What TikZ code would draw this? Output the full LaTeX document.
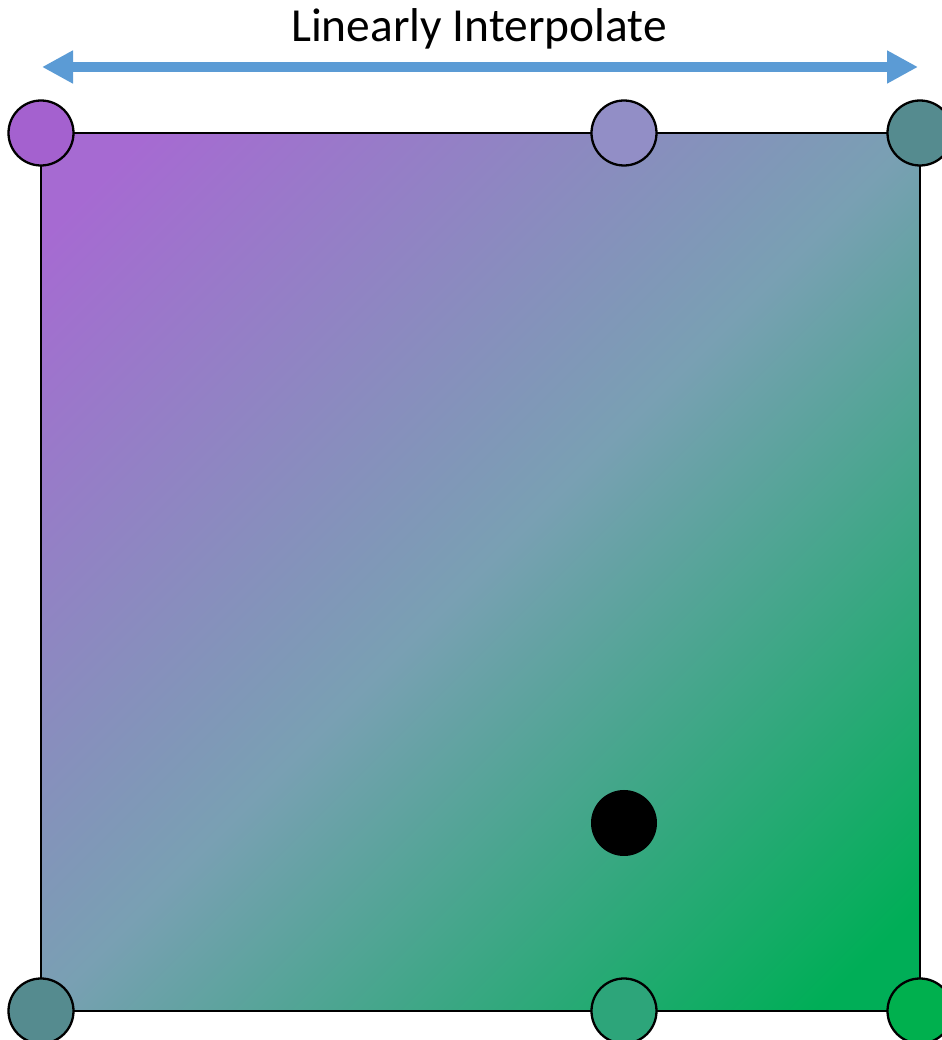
\documentclass[tikz,border=0pt]{standalone}
\usepackage{fontspec}
\setmainfont{Carlito}
\usetikzlibrary{arrows.meta}
\definecolor{gradA}{HTML}{A66AD2}
\definecolor{gradM}{HTML}{79A0B3}
\definecolor{gradB}{HTML}{00AE57}
\definecolor{knotA}{HTML}{A461CF}
\definecolor{knotB}{HTML}{928EC6}
\definecolor{knotC}{HTML}{558B8F}
\definecolor{knotD}{HTML}{2DA57A}
\definecolor{knotE}{HTML}{00B04E}
\definecolor{arrowblue}{HTML}{5B9BD5}
\pgfdeclarehorizontalshading{lerpfill}{100bp}{color(0bp)=(gradA); color(28bp)=(gradA); color(50bp)=(gradM); color(72bp)=(gradB); color(100bp)=(gradB)}
\begin{document}
\begin{tikzpicture}[x=1cm,y=1cm,line width=1.3pt,
  knot/.style={circle,draw=black,minimum size=1.3cm,inner sep=0pt},
  sample/.style={circle,fill=black,minimum size=1.32cm,inner sep=0pt},
  lerp/.style={arrowblue,line width=.2cm,{Triangle[length=.62cm,width=.62cm]}-{Triangle[length=.62cm,width=.62cm]}}]
\useasboundingbox (0,0) rectangle (18.84,20.8);
\coordinate (sw) at (.82,.58);\coordinate (ne) at (18.4,18.14);
\coordinate (nw) at (sw|-ne);\coordinate (se) at (ne|-sw);
\coordinate (c) at (9.61,9.36);
% diagonal gradient
\begin{scope}
\clip (sw) rectangle (ne);
\shade[transform canvas={rotate around={-45:(c)}},shading=lerpfill]
  (c) ++(-12.42,-12.42) rectangle ++(24.84,24.84);
\end{scope}
\draw (sw) rectangle (ne);
\node[knot,fill=knotA] (q11) at (nw) {};
\node[knot,fill=knotB] (r1) at (12.48,18.14) {};
\node[knot,fill=knotC] (q21) at (ne) {};
\node[knot,fill=knotC] (q12) at (sw) {};
\node[knot,fill=knotD] (r2) at (12.48,.58) {};
\node[knot,fill=knotE] (q22) at (se) {};
\node[sample] (p) at (12.48,4.34) {};
\coordinate (al) at (.84,19.46);\coordinate (ar) at (18.36,19.46);
\draw[lerp] (al)--(ar);
\node[anchor=base,font=\fontsize{27}{32}\selectfont] (title) at (9.58,19.96) {Linearly Interpolate};
\end{tikzpicture}
\end{document}
